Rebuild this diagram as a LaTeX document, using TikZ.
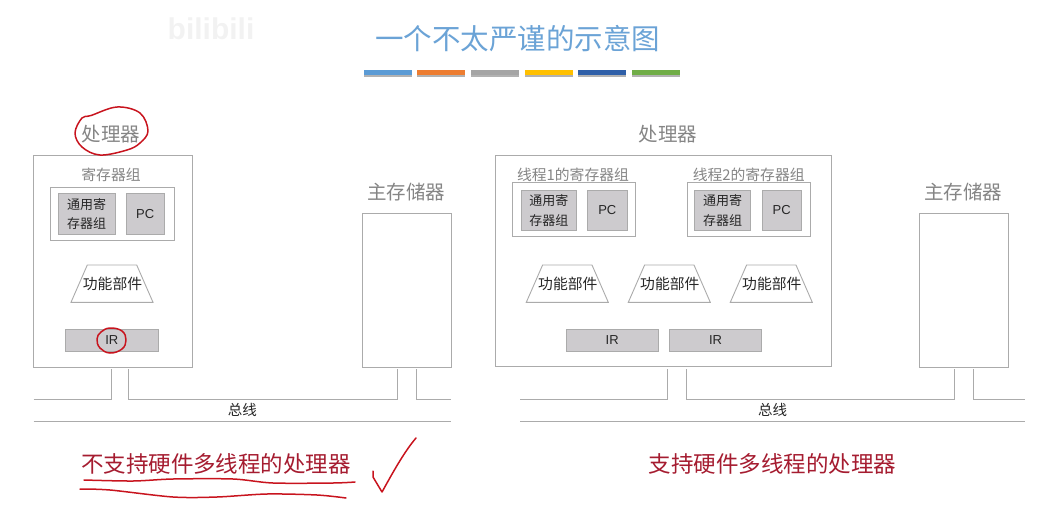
\documentclass[tikz,border=0pt]{standalone}
\usepackage{fontspec}
\setmainfont{Noto Sans CJK SC}
\newfontfamily\latinfont{Liberation Sans}
\usetikzlibrary{calc}
\definecolor{boxline}{HTML}{ABABAB}
\definecolor{boxfill}{HTML}{CDCBCE}
\definecolor{greytext}{HTML}{858585}
\definecolor{penred}{HTML}{C8141E}
\definecolor{captionred}{HTML}{A51C30}
\definecolor{titleblue}{HTML}{6BA3D6}
\begin{document}
\begin{tikzpicture}[
			x=1pt, y=-1pt,
			frame box/.style={draw=boxline, line width=0.9pt, fill=white, inner sep=0pt},
			reg box/.style={draw=boxline, line width=0.9pt, fill=boxfill, inner sep=0pt, font=\fontsize{13}{19.5}\selectfont, align=center, text=black!85},
			pc label/.style={font=\fontsize{13}{15}\latinfont},
			func label/.style={inner sep=0pt, font=\fontsize{14.8}{16}\selectfont, text=black!85},
			head label/.style={font=\fontsize{19.5}{22}\selectfont, text=greytext},
			group label/.style={font=\fontsize{14.8}{16}\selectfont, text=greytext},
			bus line/.style={draw=boxline, line width=0.9pt},
			bus label/.style={font=\fontsize{14.5}{16}\selectfont, text=black!85},
			caption label/.style={font=\fontsize{22.5}{24}\selectfont, text=captionred},
			pen line/.style={draw=penred, line width=1.5pt, line cap=round, line join=round},
			rule bar/.style={minimum width=48pt, minimum height=5pt, inner sep=0pt}
			]
			\newcommand{\drawbus}[7]{
				\coordinate (BusA) at (#1,399);
				\coordinate (BusB) at (#2,399);
				\coordinate (BusC) at (#3,399);
				\coordinate (BusD) at (#4,399);
				\coordinate (BusE) at (#5,399);
				\coordinate (BusF) at (#6,399);
				\coordinate (BusG) at (#1,421);
				\coordinate (BusH) at (#6,421);
				\draw[bus line] (BusA) -- (BusB) -- (#2,369);
				\draw[bus line] (#3,369) -- (BusC) -- (BusD) -- (#4,369);
				\draw[bus line] (#5,369) -- (BusE) -- (BusF);
				\draw[bus line] (BusG) -- (BusH);
				\node[bus label] (#7) at ($(BusA)!0.5!(BusF)+(0,11)$) {总线};
			}
			\newcommand{\drawfunc}[2]{
				\draw[bus line] (#2-41,302.3) -- (#2-24.7,265) -- (#2+24.7,265) -- (#2+41,302.3) -- cycle;
				\node[func label] (#1) at (#2+0.5,284) {功能部件};
			}
			% title and bars
			\useasboundingbox (0,0) rectangle (1050,517);
			\node[font=\fontsize{28.5}{32}\selectfont, text=titleblue] (title) at (517.5,39) {一个不太严谨的示意图};
			\foreach \barx/\barcol [count=\i] in {388/5B9BD5, 441/ED7D31, 495/A5A5A5, 548.5/FFC000, 602/2F5FA8, 656/70AD47}{
				\definecolor{barcol}{HTML}{\barcol}
				\fill[black!30] (\barx-24,73) rectangle (\barx+24,76.5);
				\node[rule bar, fill=barcol] (bar\i) at (\barx,72.2) {};
			}
			\node[font=\fontsize{30}{32}\latinfont\bfseries, text=black!5] (logo) at (211,29) {bilibili};
			% left processor
			\node[head label] (cpuL) at (111,134) {处理器};
			\node[frame box, minimum width=158.5pt, minimum height=212pt] (procL) at (112.75,261) {};
			\node[group label] (groupL) at (111,175) {寄存器组};
			\node[frame box, minimum width=123.5pt, minimum height=53pt] (regsL) at (112.25,213.5) {};
			\node[reg box, minimum width=57pt, minimum height=41pt] (gprL) at (86.5,214) {通用寄\\存器组};
			\node[reg box, pc label, minimum width=38.5pt, minimum height=41pt] (pcL) at (145.25,214) {PC};
			\drawfunc{funcL}{112}
			\node[reg box, pc label, minimum width=92.5pt, minimum height=22pt] (irL) at (111.75,340) {IR};
			% left memory
			\node[head label] (memtitleL) at (406,192) {主存储器};
			\node[frame box, minimum width=89pt, minimum height=154pt] (memL) at (406.5,290) {};
			\drawbus{33.5}{111}{128.5}{397}{416}{451}{busL}
			\node[caption label] (capL) at (216,464) {不支持硬件多线程的处理器};
			% right processor
			\node[head label] (cpuR) at (668,134) {处理器};
			\node[frame box, minimum width=336pt, minimum height=211.5pt] (procR) at (663.75,261) {};
			\node[group label] (groupRa) at (573,175) {线程1的寄存器组};
			\node[group label] (groupRb) at (748.7,175) {线程2的寄存器组};
			\node[frame box, minimum width=123.2pt, minimum height=54pt] (regsRa) at (574.1,209) {};
			\node[frame box, minimum width=123.4pt, minimum height=54pt] (regsRb) at (749,209) {};
			\node[reg box, minimum width=55.7pt, minimum height=40.7pt] (gprRa) at (548.85,210.35) {通用寄\\存器组};
			\node[reg box, pc label, minimum width=40pt, minimum height=40.7pt] (pcRa) at (607.3,210.35) {PC};
			\node[reg box, minimum width=56.4pt, minimum height=40.7pt] (gprRb) at (722.5,210.35) {通用寄\\存器组};
			\node[reg box, pc label, minimum width=38.7pt, minimum height=40.7pt] (pcRb) at (781.65,210.35) {PC};
			\drawfunc{funcRa}{567.3}
			\drawfunc{funcRb}{669.3}
			\drawfunc{funcRc}{771.3}
			\node[reg box, pc label, minimum width=92.3pt, minimum height=21.7pt] (irRa) at (612.15,340.15) {IR};
			\node[reg box, pc label, minimum width=92.4pt, minimum height=21.7pt] (irRb) at (715.5,340.15) {IR};
			% right memory
			\node[head label] (memtitleR) at (963,192) {主存储器};
			\node[frame box, minimum width=89pt, minimum height=154pt] (memR) at (963.5,290) {};
			\drawbus{520}{667.7}{686.7}{954}{973}{1025}{busR}
			\node[caption label] (capR) at (772.5,464) {支持硬件多线程的处理器};
			% pen marks
			\draw[pen line] plot[smooth cycle, tension=0.6] coordinates {(91,115.5) (117,107) (140,113) (148,131) (140,143) (127,150) (100,155) (82,147) (75,133) (82,118)};
			\draw[pen line] plot[smooth cycle, tension=0.7] coordinates {(110,328) (122,331) (126,340) (122,349) (110,353) (100,348) (97,339) (101,332)};
			\draw[pen line] plot[smooth, tension=0.5] coordinates {(84,480) (133,481) (173,479) (233,479) (273,483) (333,483) (355,482)};
			\draw[pen line] plot[smooth, tension=0.5] coordinates {(80,489) (110,490) (173,497) (217,497) (267,494) (317,495) (346,498)};
			\draw[pen line] (373,471) -- (373,477) -- (382,492) .. controls (392,474) and (404,452) .. (416,438);
\end{tikzpicture}
\end{document}
